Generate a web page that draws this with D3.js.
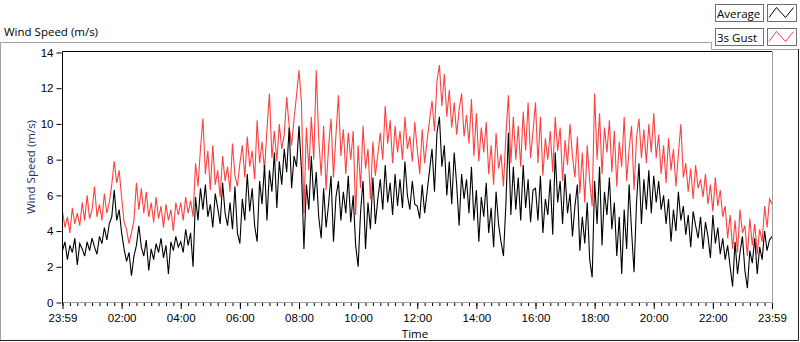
<!DOCTYPE html>
<html>
<head>
<meta charset="utf-8">
<script src="https://cdn.jsdelivr.net/npm/d3@7/dist/d3.min.js"></script>
<style>
  html, body { margin: 0; padding: 0; background: #fff; }
  svg { display: block; font-family: "Open Sans", "Noto Sans", sans-serif; }
  .axis text { font-size: 11.5px; fill: #000; }
</style>
</head>
<body>
<svg class="chart" width="800" height="342"></svg>
<script>
// readings every 5 minutes from 23:59 to 23:59 (289 values)
var gust = [
  5.1, 4.2, 4.8, 3.9, 5.3, 4.4, 5.0, 4.3, 5.6, 4.6,
  6.0, 4.7, 5.2, 6.5, 4.8, 5.5, 4.6, 6.1, 5.0, 5.6,
  6.6, 7.9, 6.7, 7.4, 5.9, 4.5, 4.1, 3.3, 3.9, 4.6,
  6.7, 5.2, 6.4, 5.0, 6.2, 4.8, 5.6, 4.5, 5.9, 4.7,
  5.4, 4.2, 5.5, 4.6, 5.2, 4.0, 5.6, 4.9,
  5.6, 4.6, 5.9, 5.0, 5.7, 4.8, 7.8, 6.5, 8.6, 10.3,
  7.2, 8.5, 6.3, 8.8, 6.6, 7.4, 5.9, 8.2, 6.8, 7.6,
  6.2, 8.9, 7.1, 6.5, 7.8, 8.8, 7.0, 9.3, 7.6, 8.5,
  6.9, 10.2, 7.8, 9.0, 7.4, 9.7, 11.7, 8.1, 9.6, 7.9,
  10.0, 8.6, 9.4, 11.5, 9.9, 8.8, 10.3, 11.6,
  13.0, 11.2, 5.0, 9.8, 7.4, 10.4, 8.0, 13.0, 9.2, 7.1,
  9.9, 6.3, 8.7, 10.3, 7.0, 9.4, 11.6, 8.2, 9.7, 7.2,
  9.5, 8.0, 9.6, 4.9, 8.8, 6.4, 9.9, 7.5, 8.6, 5.8,
  9.0, 7.1, 8.3, 9.5, 8.0, 11.0, 8.9, 10.2, 7.8, 9.9,
  8.4, 9.6, 8.0, 10.4, 8.6, 9.3, 7.9, 10.1,
  8.6, 7.2, 9.7, 7.8, 9.1, 10.2, 11.3, 9.6, 12.4, 13.3,
  11.0, 12.8, 10.4, 11.9, 9.8, 11.2, 9.4, 10.8, 11.7, 9.3,
  10.5, 8.9, 11.4, 8.2, 10.6, 7.9, 9.8, 8.4, 10.1, 7.2,
  8.8, 6.6, 9.5, 7.5, 8.3, 6.5, 9.4, 11.6, 7.8, 10.4,
  8.0, 9.9, 7.6, 10.7, 8.5, 11.2, 8.1, 9.6,
  11.2, 7.8, 10.4, 7.1, 9.2, 8.0, 9.6, 7.3, 10.4, 8.5,
  9.8, 6.8, 9.1, 7.7, 10.0, 8.2, 7.0, 9.3, 6.1, 8.4,
  5.6, 8.8, 6.8, 5.4, 11.7, 8.0, 10.6, 7.2, 9.8, 8.4,
  10.2, 7.3, 9.6, 6.5, 9.0, 7.6, 10.4, 6.8, 8.6, 9.9,
  6.3, 9.2, 10.3, 8.1, 9.7, 7.8, 10.0, 8.4,
  10.6, 8.1, 9.4, 7.2, 8.8, 6.7, 9.2, 7.4, 8.6, 6.5,
  8.3, 10.0, 7.0, 7.8, 6.2, 7.5, 5.8, 7.7, 6.4, 6.9,
  5.9, 7.2, 5.5, 6.6, 5.1, 7.0, 5.4, 6.3, 4.8, 5.4,
  3.6, 4.9, 3.0, 4.6, 2.8, 5.2, 3.9, 4.3, 2.6, 4.7,
  3.2, 4.4, 2.7, 4.1, 3.4, 5.4, 4.2, 5.8, 5.5
];
var average = [
  2.9, 3.4, 2.4, 3.2, 2.8, 3.6, 2.1, 3.3, 3.0, 2.6,
  3.4, 2.9, 3.6, 3.1, 2.7, 3.7, 3.3, 4.2, 3.5, 4.4,
  4.8, 6.3, 4.6, 5.2, 3.9, 3.0, 2.3, 2.8, 1.5, 2.6,
  3.2, 4.3, 3.1, 2.6, 3.5, 1.8, 3.0, 2.4, 3.3, 2.8,
  3.6, 2.5, 3.2, 1.6, 3.4, 2.9, 3.7, 3.1,
  3.4, 2.8, 4.1, 3.2, 3.9, 2.0, 5.9, 4.6, 6.4, 5.2,
  6.6, 4.8, 5.5, 4.2, 6.1, 5.3, 4.4, 6.7, 5.0, 4.3,
  5.6, 4.1, 6.5, 3.9, 3.3, 5.8, 4.6, 7.2, 5.1, 6.4,
  4.3, 3.4, 6.8, 5.5, 7.7, 4.6, 7.4, 6.2, 8.4, 5.3,
  7.9, 6.6, 8.6, 7.3, 9.8, 6.4, 8.2, 7.6,
  9.9, 7.4, 3.0, 6.6, 5.2, 8.2, 5.7, 7.3, 4.8, 3.6,
  6.4, 4.2, 5.5, 7.1, 3.4, 5.9, 6.8, 4.6, 6.2, 5.0,
  7.1, 4.5, 6.0, 3.2, 2.0, 5.1, 6.8, 3.0, 5.6, 4.1,
  7.0, 4.4, 5.8, 6.9, 5.2, 7.7, 5.6, 6.7, 4.9, 7.2,
  5.4, 6.9, 5.3, 7.9, 6.0, 5.2, 6.8, 5.5,
  5.4, 4.7, 6.6, 5.0, 6.2, 7.4, 8.6, 6.2, 9.5, 10.4,
  7.6, 8.8, 6.0, 7.9, 5.5, 8.4, 6.6, 4.3, 7.2, 5.8,
  6.9, 5.0, 7.6, 4.6, 6.3, 3.4, 5.9, 4.8, 6.7, 3.9,
  5.3, 3.1, 6.2, 4.4, 3.4, 2.6, 5.6, 9.5, 4.9, 7.6,
  5.2, 7.0, 4.6, 7.7, 5.3, 6.9, 4.5, 6.3,
  6.4, 4.6, 7.1, 3.9, 5.8, 4.9, 6.9, 3.8, 8.4, 5.6,
  6.8, 4.4, 7.2, 5.0, 6.1, 3.7, 5.4, 6.6, 2.9, 4.8,
  3.3, 5.6, 2.4, 1.4, 6.8, 4.4, 7.6, 3.2, 6.2, 4.9,
  7.0, 4.1, 5.6, 2.6, 4.8, 1.6, 5.2, 3.0, 6.6, 4.0,
  1.7, 5.6, 7.8, 4.4, 6.9, 5.2, 7.4, 5.0,
  7.1, 5.6, 6.8, 5.2, 6.0, 4.4, 5.8, 3.4, 5.2, 4.0,
  6.2, 4.6, 5.4, 3.8, 4.9, 3.1, 5.1, 4.3, 3.6, 4.8,
  3.0, 4.5, 3.7, 2.5, 4.9, 3.3, 4.2, 2.7, 3.6, 2.4,
  3.2, 2.0, 0.9, 3.4, 1.6, 2.8, 3.7, 1.8, 0.8, 2.9,
  2.2, 3.6, 1.6, 3.1, 2.4, 4.0, 2.9, 3.5, 3.7
];
var stepMinutes = 5;
var timeTicks = [0, 120, 240, 360, 480, 600, 720, 840, 960, 1080, 1200, 1320, 1440];
var timeLabels = ["23:59", "02:00", "04:00", "06:00", "08:00", "10:00", "12:00",
                  "14:00", "16:00", "18:00", "20:00", "22:00", "23:59"];
var speedTicks = [0, 2, 4, 6, 8, 10, 12, 14];
var legendNames = ["Average", "3s Gust"];
var legendColors = ["#000000", "#ff4040"];

drawChart();

function drawChart() {
    var svg = d3.select('.chart');

    var pLeft = 62, pRight = 772, pTop = 51, pBottom = 303;

    var x = d3.scaleLinear().domain([0, 1440]).range([pLeft + 0.5, pRight]);
    var y = d3.scaleLinear().domain([0, 14]).range([302.5, 52.5]);

    // outer raised frame
    svg.append('path')
        .attr('d', 'M0.5,340 V42.5 H711.5 V49.5 H799')
        .attr('fill', 'none').attr('stroke', '#a0a0a0');
    svg.append('path')
        .attr('d', 'M0,340.5 H798.5 V49')
        .attr('fill', 'none').attr('stroke', '#202020');

    svg.append('text')
        .attr('x', 4).attr('y', 36)
        .attr('font-size', 11.5)
        .text('Wind Speed (m/s)');

    // plot area frame (sunken)
    svg.append('path')
        .attr('d', 'M' + (pLeft + 0.5) + ',' + pBottom + ' V' + (pTop + 0.5) + ' H' + pRight)
        .attr('fill', 'none').attr('stroke', '#000');
    svg.append('path')
        .attr('d', 'M' + (pLeft + 1) + ',' + (pBottom - 0.5) + ' H' + (pRight + 0.5) + ' V' + (pTop + 1))
        .attr('fill', 'none').attr('stroke', '#a0a0a0');

    svg.append('clipPath').attr('id', 'clip')
      .append('rect')
        .attr('x', pLeft + 1).attr('y', pTop + 1)
        .attr('width', pRight - pLeft - 1).attr('height', pBottom - pTop - 2);

    var line = d3.line()
        .x(function (d, i) { return x(i * stepMinutes); })
        .y(function (d) { return y(d); });

    var plots = svg.append('g').attr('clip-path', 'url(#clip)');
    plots.append('path')
        .attr('d', line(gust))
        .attr('fill', 'none')
        .attr('stroke', legendColors[1])
        .attr('stroke-width', 1.1);
    plots.append('path')
        .attr('d', line(average))
        .attr('fill', 'none')
        .attr('stroke', legendColors[0])
        .attr('stroke-width', 1.1);

    // x axis: minor ticks every 15 minutes, major every 2 hours
    var minorAxis = d3.axisBottom(x)
        .tickValues(d3.range(0, 1441, 15))
        .tickSize(3)
        .tickFormat('');
    svg.append('g')
        .attr('class', 'axis')
        .attr('transform', 'translate(0,303)')
        .call(minorAxis)
        .call(function (g) { g.select('.domain').remove(); });

    var xAxis = d3.axisBottom(x)
        .tickValues(timeTicks)
        .tickSize(6)
        .tickPadding(5)
        .tickFormat(function (d, i) { return timeLabels[i]; });
    svg.append('g')
        .attr('class', 'axis')
        .attr('transform', 'translate(0,303)')
        .call(xAxis)
        .call(function (g) { g.select('.domain').remove(); });

    var yAxis = d3.axisLeft(y)
        .tickValues(speedTicks)
        .tickSize(5)
        .tickPadding(3)
        .tickFormat(d3.format('d'));
    svg.append('g')
        .attr('class', 'axis')
        .attr('transform', 'translate(' + (pLeft - 0.5) + ',0)')
        .call(yAxis)
        .call(function (g) { g.select('.domain').remove(); });

    svg.append('text')
        .attr('transform', 'translate(35,167) rotate(-90)')
        .attr('text-anchor', 'middle')
        .attr('font-size', 11.5)
        .attr('fill', '#1a2f66')
        .text('Wind Speed (m/s)');

    svg.append('text')
        .attr('x', 415).attr('y', 338)
        .attr('text-anchor', 'middle')
        .attr('font-size', 11.5)
        .text('Time');

    // legend
    var legend = svg.selectAll('.legend')
        .data(legendNames)
      .enter().append('g')
        .attr('class', 'legend')
        .attr('transform', function (d, i) { return 'translate(0,' + (i * 24) + ')'; });

    legend.append('rect')
        .attr('x', 715.5).attr('y', 4.5)
        .attr('width', 48).attr('height', 17)
        .attr('fill', '#fff').attr('stroke', '#707070');
    legend.append('text')
        .attr('x', 717).attr('y', 17.5)
        .attr('font-size', 11.5)
        .text(function (d) { return d; });
    legend.append('rect')
        .attr('x', 767.5).attr('y', 4.5)
        .attr('width', 29).attr('height', 17)
        .attr('fill', '#fff').attr('stroke', '#707070');
    legend.append('path')
        .attr('d', 'M769,17.5 L776.5,7.5 L785.5,17.5 L793.5,7.5')
        .attr('fill', 'none')
        .attr('stroke', function (d, i) { return legendColors[i]; });
}
</script>
</body>
</html>
